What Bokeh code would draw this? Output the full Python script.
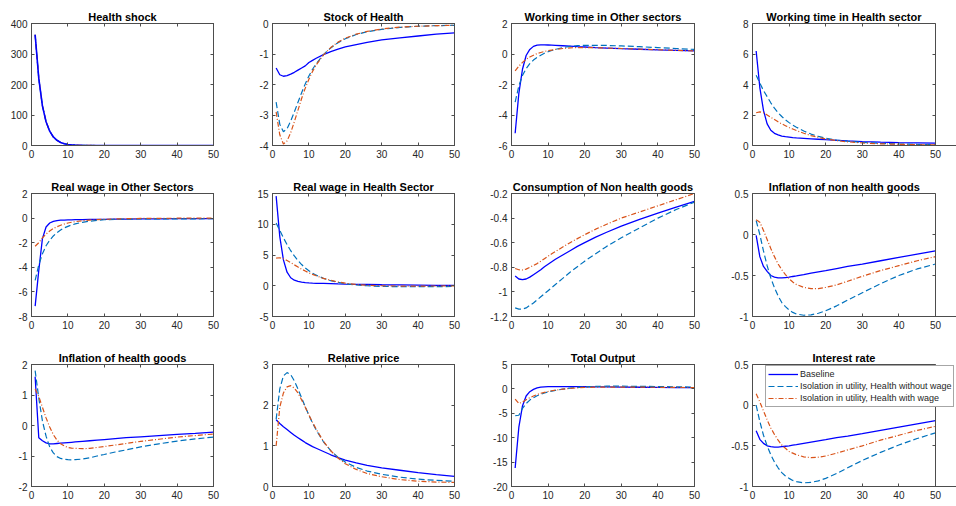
from bokeh.plotting import figure
from bokeh.layouts import gridplot
from bokeh.models import LinearAxis, FixedTicker, Legend, LegendItem, Range1d
from bokeh.embed import file_html
from bokeh.resources import INLINE

# ---------------- data ----------------
periods = [1, 2, 3, 4, 5, 6, 7, 8, 9, 10, 11, 12, 14, 16, 18, 20, 23, 26, 30, 35, 40, 45, 50]

titles = ["Health shock", "Stock of Health", "Working time in Other sectors",
          "Working time in Health sector", "Real wage in Other Sectors",
          "Real wage in Health Sector", "Consumption of Non health goods",
          "Inflation of non health goods", "Inflation of health goods",
          "Relative price", "Total Output", "Interest rate"]

series_names = ["Baseline", "Isolation in utility, Health without wage",
                "Isolation in utility, Health with wage"]

x_ticks = [0, 10, 20, 30, 40, 50]
x_limits = (0, 50)

y_limits = [(0, 400), (-4, 0), (-6, 2), (0, 8), (-8, 2), (-5, 15),
            (-1.2, -0.2), (-1, 0.5), (-2, 2), (0, 3), (-20, 5), (-1, 0.5)]
y_ticks = [[0, 100, 200, 300, 400],
           [-4, -3, -2, -1, 0],
           [-6, -4, -2, 0, 2],
           [0, 2, 4, 6, 8],
           [-8, -6, -4, -2, 0, 2],
           [-5, 0, 5, 10, 15],
           [-1.2, -1, -0.8, -0.6, -0.4, -0.2],
           [-1, -0.5, 0, 0.5],
           [-2, -1, 0, 1, 2],
           [0, 1, 2, 3],
           [-20, -15, -10, -5, 0, 5],
           [-1, -0.5, 0, 0.5]]
y_tick_labels = [["0", "100", "200", "300", "400"],
                 ["-4", "-3", "-2", "-1", "0"],
                 ["-6", "-4", "-2", "0", "2"],
                 ["0", "2", "4", "6", "8"],
                 ["-8", "-6", "-4", "-2", "0", "2"],
                 ["-5", "0", "5", "10", "15"],
                 ["-1.2", "-1", "-0.8", "-0.6", "-0.4", "-0.2"],
                 ["-1", "-0.5", "0", "0.5"],
                 ["-2", "-1", "0", "1", "2"],
                 ["0", "1", "2", "3"],
                 ["-20", "-15", "-10", "-5", "0", "5"],
                 ["-1", "-0.5", "0", "0.5"]]

# Health shock (identical in the three scenarios)
shock = [363, 220, 130, 78, 47, 28, 17, 10, 6, 3.5, 2, 1.2, 0.4, 0.15, 0.05, 0, 0, 0, 0, 0, 0, 0, 0]

stock_base = [-1.46, -1.68, -1.73, -1.71, -1.66, -1.6, -1.53, -1.46, -1.39, -1.28, -1.21, -1.14, -1.02, -0.92, -0.84, -0.77, -0.69, -0.62, -0.54, -0.47, -0.41, -0.35, -0.31]
stock_nowage = [-2.58, -3.3, -3.55, -3.45, -3.2, -2.9, -2.58, -2.27, -1.98, -1.72, -1.5, -1.32, -1.02, -0.8, -0.63, -0.5, -0.36, -0.27, -0.19, -0.13, -0.09, -0.07, -0.06]
stock_wage = [-2.9, -3.65, -3.95, -3.85, -3.58, -3.22, -2.84, -2.46, -2.12, -1.83, -1.57, -1.36, -1.03, -0.79, -0.61, -0.48, -0.35, -0.26, -0.18, -0.12, -0.09, -0.07, -0.06]

wto_base = [-5.2, -2.6, -1.0, -0.1, 0.3, 0.5, 0.58, 0.6, 0.6, 0.59, 0.58, 0.57, 0.54, 0.51, 0.48, 0.46, 0.42, 0.39, 0.35, 0.31, 0.27, 0.24, 0.2]
wto_nowage = [-3.15, -2.1, -1.4, -0.96, -0.63, -0.4, -0.22, -0.08, 0.05, 0.15, 0.23, 0.3, 0.42, 0.5, 0.55, 0.57, 0.57, 0.56, 0.53, 0.48, 0.42, 0.36, 0.3]
wto_wage = [-1.11, -0.8, -0.55, -0.35, -0.2, -0.08, 0.03, 0.1, 0.17, 0.22, 0.26, 0.3, 0.36, 0.4, 0.42, 0.42, 0.41, 0.39, 0.36, 0.32, 0.28, 0.24, 0.2]

wth_base = [6.2, 3.8, 2.3, 1.42, 1.0, 0.8, 0.7, 0.62, 0.58, 0.55, 0.52, 0.5, 0.47, 0.44, 0.41, 0.38, 0.34, 0.3, 0.26, 0.22, 0.19, 0.17, 0.15]
wth_nowage = [4.6, 4.1, 3.6, 3.2, 2.8, 2.45, 2.15, 1.9, 1.68, 1.5, 1.33, 1.2, 0.95, 0.75, 0.6, 0.48, 0.36, 0.28, 0.2, 0.14, 0.1, 0.07, 0.05]
wth_wage = [2.15, 2.2, 2.15, 2.0, 1.85, 1.7, 1.55, 1.42, 1.3, 1.18, 1.08, 0.98, 0.8, 0.65, 0.53, 0.43, 0.32, 0.24, 0.17, 0.11, 0.08, 0.05, 0.04]

rwo_base = [-7.16, -4.25, -1.67, -0.72, -0.4, -0.27, -0.2, -0.17, -0.16, -0.15, -0.14, -0.13, -0.12, -0.11, -0.1, -0.1, -0.09, -0.08, -0.07, -0.06, -0.05, -0.05, -0.04]
rwo_nowage = [-5.07, -3.8, -2.9, -2.25, -1.8, -1.45, -1.18, -0.97, -0.8, -0.67, -0.56, -0.47, -0.34, -0.25, -0.18, -0.13, -0.1, -0.08, -0.07, -0.06, -0.06, -0.06, -0.05]
rwo_wage = [-2.29, -2.0, -1.6, -1.3, -1.05, -0.85, -0.7, -0.58, -0.48, -0.4, -0.34, -0.29, -0.22, -0.16, -0.12, -0.1, -0.07, -0.05, -0.03, -0.02, -0.01, 0, 0]

rwh_base = [14.57, 8.0, 4.2, 2.2, 1.3, 0.9, 0.7, 0.6, 0.52, 0.47, 0.43, 0.4, 0.37, 0.34, 0.3, 0.27, 0.23, 0.2, 0.16, 0.13, 0.1, 0.07, 0.05]
rwh_nowage = [10.2, 9.0, 7.8, 6.7, 5.7, 4.85, 4.1, 3.45, 2.9, 2.45, 2.05, 1.72, 1.2, 0.82, 0.55, 0.35, 0.12, 0.0, -0.1, -0.15, -0.15, -0.15, -0.12]
rwh_wage = [4.5, 4.55, 4.4, 4.1, 3.75, 3.4, 3.05, 2.7, 2.4, 2.1, 1.85, 1.62, 1.2, 0.88, 0.62, 0.42, 0.2, 0.08, 0.0, -0.05, -0.05, -0.04, -0.03]

cons_base = [-0.87, -0.895, -0.9, -0.895, -0.88, -0.86, -0.84, -0.82, -0.795, -0.775, -0.755, -0.735, -0.7, -0.665, -0.63, -0.6, -0.555, -0.515, -0.465, -0.41, -0.36, -0.31, -0.265]
cons_nowage = [-1.13, -1.14, -1.14, -1.13, -1.11, -1.09, -1.065, -1.04, -1.015, -0.99, -0.965, -0.94, -0.89, -0.84, -0.795, -0.75, -0.69, -0.63, -0.56, -0.48, -0.4, -0.33, -0.27]
cons_wage = [-0.81, -0.82, -0.822, -0.815, -0.8, -0.785, -0.77, -0.75, -0.73, -0.71, -0.69, -0.672, -0.635, -0.6, -0.567, -0.535, -0.49, -0.45, -0.4, -0.35, -0.3, -0.25, -0.2]

infn_base = [-0.01, -0.27, -0.39, -0.45, -0.5, -0.52, -0.53, -0.53, -0.525, -0.52, -0.512, -0.505, -0.49, -0.47, -0.455, -0.44, -0.415, -0.39, -0.36, -0.32, -0.28, -0.24, -0.2]
infn_nowage = [0.17, 0.0, -0.2, -0.38, -0.53, -0.65, -0.75, -0.83, -0.88, -0.92, -0.95, -0.97, -0.985, -0.98, -0.96, -0.93, -0.87, -0.8, -0.71, -0.6, -0.5, -0.42, -0.36]
infn_wage = [0.18, 0.15, 0.05, -0.06, -0.17, -0.27, -0.36, -0.43, -0.49, -0.54, -0.58, -0.61, -0.645, -0.66, -0.66, -0.645, -0.615, -0.57, -0.51, -0.44, -0.38, -0.32, -0.27]

infh_base = [1.6, -0.4, -0.5, -0.57, -0.6, -0.6, -0.59, -0.58, -0.57, -0.56, -0.55, -0.54, -0.52, -0.5, -0.48, -0.46, -0.43, -0.4, -0.37, -0.33, -0.29, -0.26, -0.22]
infh_nowage = [1.8, 0.9, 0.15, -0.35, -0.7, -0.9, -1.02, -1.08, -1.11, -1.12, -1.125, -1.12, -1.1, -1.06, -1.0, -0.95, -0.87, -0.8, -0.7, -0.6, -0.51, -0.44, -0.38]
infh_wage = [1.2, 0.95, 0.6, 0.25, -0.05, -0.3, -0.48, -0.6, -0.67, -0.72, -0.74, -0.75, -0.76, -0.75, -0.72, -0.69, -0.64, -0.59, -0.52, -0.45, -0.38, -0.33, -0.28]

rp_base = [1.64, 1.55, 1.47, 1.4, 1.33, 1.26, 1.2, 1.14, 1.08, 1.03, 0.98, 0.94, 0.86, 0.78, 0.71, 0.65, 0.58, 0.52, 0.46, 0.4, 0.34, 0.29, 0.25]
rp_nowage = [1.65, 2.4, 2.72, 2.8, 2.75, 2.6, 2.4, 2.18, 1.96, 1.75, 1.56, 1.39, 1.1, 0.88, 0.72, 0.6, 0.47, 0.38, 0.3, 0.23, 0.18, 0.15, 0.13]
rp_wage = [1.0, 1.95, 2.3, 2.45, 2.48, 2.42, 2.3, 2.13, 1.95, 1.76, 1.58, 1.41, 1.11, 0.88, 0.7, 0.56, 0.42, 0.32, 0.24, 0.17, 0.13, 0.11, 0.1]

out_base = [-16.2, -7.9, -3.5, -1.45, -0.57, -0.1, 0.2, 0.35, 0.42, 0.45, 0.47, 0.47, 0.47, 0.46, 0.45, 0.44, 0.42, 0.4, 0.37, 0.34, 0.3, 0.27, 0.25]
out_nowage = [-5.5, -5.4, -4.0, -3.0, -2.3, -1.8, -1.4, -1.1, -0.85, -0.62, -0.45, -0.3, -0.05, 0.15, 0.3, 0.4, 0.5, 0.55, 0.55, 0.52, 0.48, 0.42, 0.38]
out_wage = [-2.1, -3.0, -2.7, -2.2, -1.8, -1.45, -1.15, -0.9, -0.7, -0.53, -0.38, -0.26, -0.06, 0.1, 0.22, 0.3, 0.36, 0.38, 0.38, 0.36, 0.33, 0.3, 0.27]

ir_base = [-0.315, -0.42, -0.47, -0.5, -0.51, -0.515, -0.515, -0.51, -0.505, -0.5, -0.492, -0.485, -0.47, -0.455, -0.44, -0.425, -0.4, -0.38, -0.35, -0.31, -0.27, -0.23, -0.19]
ir_nowage = [0.0, -0.2, -0.37, -0.5, -0.61, -0.7, -0.77, -0.83, -0.87, -0.9, -0.925, -0.94, -0.955, -0.95, -0.93, -0.9, -0.84, -0.77, -0.68, -0.58, -0.49, -0.41, -0.34]
ir_wage = [0.14, 0.04, -0.07, -0.18, -0.28, -0.36, -0.43, -0.49, -0.53, -0.57, -0.59, -0.61, -0.635, -0.645, -0.64, -0.625, -0.59, -0.55, -0.5, -0.43, -0.37, -0.31, -0.26]

panels = [
    (shock, shock, shock),
    (stock_base, stock_nowage, stock_wage),
    (wto_base, wto_nowage, wto_wage),
    (wth_base, wth_nowage, wth_wage),
    (rwo_base, rwo_nowage, rwo_wage),
    (rwh_base, rwh_nowage, rwh_wage),
    (cons_base, cons_nowage, cons_wage),
    (infn_base, infn_nowage, infn_wage),
    (infh_base, infh_nowage, infh_wage),
    (rp_base, rp_nowage, rp_wage),
    (out_base, out_nowage, out_wage),
    (ir_base, ir_nowage, ir_wage),
]

# ---------------- styling ----------------
FONT = "Liberation Sans"
FRAME = "#4d4d4d"
TXT = "#262626"
COLORS = ["#0000FF", "#0072BD", "#D95319"]
DASHES = ["solid", "6 3", "5 2 1 2"]
WIDTHS = [1.3, 1.2, 1.2]
TITLE_PX = 11

col_w = [239, 239, 239, 239]
col_bl = [31, 33, 33, 35]
col_br = [26, 24, 23, 21]
row_h = [169, 169, 168]
row_bt = [23, 24, 26]
row_bb = [24, 22, 20]

# advance widths of Liberation Sans Bold (per 1000 em), used to centre the
# last column's titles over the axes box
BOLD_W = {" ": 278, "a": 556, "c": 556, "e": 556, "f": 333, "g": 611, "h": 611,
          "i": 278, "k": 556, "l": 278, "m": 889, "n": 611, "o": 611, "r": 389,
          "s": 556, "t": 333, "H": 722, "I": 278, "W": 944}


def text_px(s, size):
    return sum(BOLD_W.get(ch, 556) for ch in s) * size / 1000.0


def style_axis(ax, ticker, show_labels, tin=3, tout=0):
    ax.ticker = ticker
    ax.axis_line_color = FRAME
    ax.axis_line_width = 1
    ax.major_tick_line_color = FRAME
    ax.major_tick_line_width = 1
    ax.major_tick_in = tin
    ax.major_tick_out = tout
    ax.minor_tick_line_color = None
    if show_labels:
        ax.major_label_text_font = FONT
        ax.major_label_text_font_size = "10px"
        ax.major_label_text_color = TXT
        ax.major_label_standoff = 4
    else:
        ax.major_label_text_font_size = "0px"
        ax.major_label_text_alpha = 0
        ax.major_label_standoff = 0


figs = []
n = len(titles)
for i, title in enumerate(titles):
    r, c = divmod(i, 4)
    lo, hi = y_limits[i]
    has_legend = (i == n - 1)
    # the last column's plotting area runs to the page edge (the legend box of
    # the last panel reaches past the axes box); the axes box is closed at x = 50
    extended = (c == 3)
    right_border = col_br[c]
    x_end = x_limits[1]
    frame_w = col_w[c] - col_bl[c] - col_br[c]
    if extended:
        x_end = x_limits[1] * (frame_w + col_br[c]) / frame_w
        right_border = 0
    p = figure(width=col_w[c], height=row_h[r],
               x_range=Range1d(x_limits[0], x_end), y_range=Range1d(lo, hi),
               output_backend="svg", toolbar_location=None,
               min_border_left=col_bl[c], min_border_right=right_border,
               min_border_top=row_bt[r], min_border_bottom=row_bb[r])
    p.title.text = title
    p.title.align = "center"
    p.title.text_font = FONT
    p.title.text_font_size = "%dpx" % TITLE_PX
    p.title.text_font_style = "bold"
    p.title.text_color = "#000000"
    p.title.standoff = 2
    p.xgrid.visible = False
    p.ygrid.visible = False
    p.outline_line_color = FRAME
    p.outline_line_width = 1
    p.background_fill_color = "white"
    p.border_fill_color = "white"

    xt = FixedTicker(ticks=x_ticks)
    yt = FixedTicker(ticks=y_ticks[i])
    style_axis(p.xaxis[0], xt, True)
    style_axis(p.yaxis[0], yt, True)
    p.yaxis[0].major_label_overrides = {v: s for v, s in zip(y_ticks[i], y_tick_labels[i])}
    p.xaxis[0].major_label_overrides = {v: str(v) for v in x_ticks}

    ta = LinearAxis()
    style_axis(ta, xt, False)
    p.add_layout(ta, "above")

    if extended:
        p.title.align = "left"
        p.title.offset = (frame_w - text_px(title, TITLE_PX)) / 2.0
        p.outline_line_color = None
        p.xaxis[0].bounds = x_limits
        ta.bounds = x_limits
        ra = LinearAxis(fixed_location=x_limits[1])
        style_axis(ra, yt, False, tin=0, tout=3)
        p.add_layout(ra, "left")
    else:
        ra = LinearAxis()
        style_axis(ra, yt, False)
        p.add_layout(ra, "right")

    rends = [None, None, None]
    order = [1, 2, 0] if i == 0 else [0, 1, 2]
    for k in order:
        lw = 1.6 if (i == 0 and k == 0) else WIDTHS[k]
        rends[k] = p.line(periods, panels[i][k], line_color=COLORS[k], line_width=lw,
                          line_dash=DASHES[k])

    if has_legend:
        legend = Legend(items=[LegendItem(label=series_names[k], renderers=[rends[k]]) for k in range(3)],
                        location=(13, 79))
        legend.label_text_font = FONT
        legend.label_text_font_size = "9px"
        legend.label_text_color = TXT
        legend.glyph_width = 30
        legend.glyph_height = 12
        legend.label_height = 12
        legend.label_standoff = 2
        legend.spacing = 0
        legend.padding = 2
        legend.margin = 0
        legend.border_line_color = FRAME
        legend.border_line_width = 1
        legend.background_fill_color = "white"
        legend.background_fill_alpha = 1
        p.add_layout(legend)
    figs.append(p)

grid = gridplot(figs, ncols=4, toolbar_location=None)

open("out.html", "w").write(file_html(grid, INLINE))
